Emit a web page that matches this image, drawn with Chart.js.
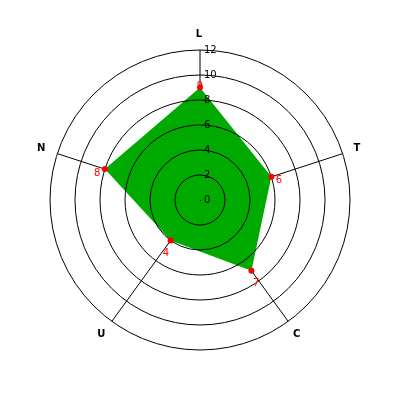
<!DOCTYPE html>
<html>
<head>
<meta charset="utf-8">
<script src="https://cdn.jsdelivr.net/npm/chart.js@4/dist/chart.umd.min.js"></script>
<style>
html,body{margin:0;padding:0;background:#fff;}
#wrap{width:400px;height:400px;}
</style>
</head>
<body>
<div id="wrap"><canvas id="c" width="400" height="400"></canvas></div>
<script>
const categories = ["L", "T", "C", "U", "N"];
const values = [9, 6, 7, 4, 8];
const tickValues = [0, 2, 4, 6, 8, 10, 12];

const overlay = {
  id: 'overlay',
  afterDatasetDraw(chart, args) {
    if (args.index !== 0) return;
    const s = chart.scales.r;
    const ctx = chart.ctx;
    ctx.save();
    ctx.strokeStyle = '#000';
    ctx.lineWidth = 1;
    tickValues.forEach(v => {
      const d = s.getDistanceFromCenterForValue(v);
      if (d <= 0) return;
      ctx.beginPath();
      ctx.arc(s.xCenter, s.yCenter, d, 0, Math.PI * 2);
      ctx.stroke();
    });
    ctx.fillStyle = '#000';
    ctx.fillRect(Math.floor(s.xCenter), Math.floor(s.yCenter), 1, 1);
    ctx.font = '10px "DejaVu Sans"';
    ctx.textAlign = 'left';
    ctx.textBaseline = 'middle';
    tickValues.forEach(v => {
      const d = s.getDistanceFromCenterForValue(v);
      ctx.fillText(String(v), s.xCenter + 4, s.yCenter - d);
    });
    ctx.restore();
  },
  afterDatasetsDraw(chart) {
    const s = chart.scales.r;
    const ctx = chart.ctx;
    ctx.save();
    ctx.fillStyle = '#ff0000';
    ctx.font = '10px "DejaVu Sans"';
    ctx.textAlign = 'center';
    ctx.textBaseline = 'middle';
    values.forEach((v, i) => {
      const p = s.getPointPositionForValue(i, v);
      const dx = p.x - s.xCenter, dy = p.y - s.yCenter;
      const len = Math.hypot(dx, dy) || 1;
      ctx.fillText(String(v), p.x + dx / len * 8, p.y + dy / len * 8 + 6.5);
    });
    ctx.fillStyle = '#000';
    ctx.font = 'bold 10px "DejaVu Sans"';
    categories.forEach((c, i) => {
      const p = s.getPointPosition(i, s.drawingArea + 16);
      ctx.fillText(c, p.x - 1, p.y);
    });
    ctx.restore();
  }
};

new Chart(document.getElementById('c'), {
  type: 'radar',
  data: {
    labels: categories,
    datasets: [{
      data: values,
      backgroundColor: '#00aa00',
      borderWidth: 0,
      borderColor: 'rgba(0,0,0,0)',
      fill: true,
      pointRadius: 0,
      pointHoverRadius: 0,
      order: 1
    }, {
      data: values,
      showLine: false,
      fill: false,
      borderWidth: 0,
      pointRadius: 3,
      pointBackgroundColor: '#ff0000',
      pointBorderColor: '#ff0000',
      pointBorderWidth: 0,
      order: 0
    }]
  },
  options: {
    responsive: false,
    animation: false,
    devicePixelRatio: 1,
    layout: { padding: { left: 50.5, top: 50.5, right: 49.5, bottom: 49.5 } },
    plugins: { legend: { display: false }, tooltip: { enabled: false } },
    elements: { line: { tension: 0 } },
    scales: {
      r: {
        min: 0,
        max: 12,
        ticks: { stepSize: 2, display: false },
        grid: { display: false, circular: true },
        angleLines: { display: true, color: '#000', lineWidth: 1 },
        pointLabels: { display: false }
      }
    }
  },
  plugins: [overlay]
});
</script>
</body>
</html>
